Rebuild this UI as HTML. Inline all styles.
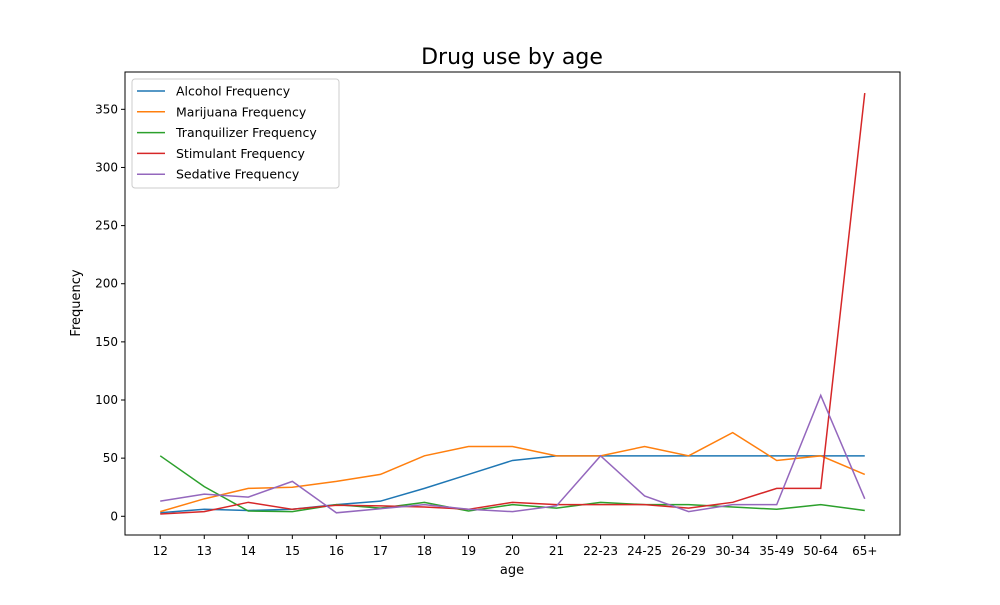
<!DOCTYPE html>
<html><head><meta charset="utf-8"><style>
body{margin:0;background:#fff;font-family:"Liberation Sans","DejaVu Sans",sans-serif}
svg text{font-family:"DejaVu Sans","Liberation Sans",sans-serif}
</style></head><body>
<svg id="chart" width="1000" height="600" xmlns="http://www.w3.org/2000/svg">
<text x="512" y="64" font-size="22" text-anchor="middle">Drug use by age</text>
<g id="grid"></g>
<g id="lines"></g>
<rect x="125" y="72" width="775" height="463" fill="none" stroke="#000" stroke-width="1"/>
<text x="512" y="574" font-size="13" text-anchor="middle">age</text>
<text x="0" y="0" font-size="13" text-anchor="middle" transform="translate(80,303) rotate(-90)">Frequency</text>
<g id="legend"></g>
</svg>
<script>
const categories=["12","13","14","15","16","17","18","19","20","21","22-23","24-25","26-29","30-34","35-49","50-64","65+"];
const alcohol=[3,6,5,6,10,13,24,36,48,52,52,52,52,52,52,52,52];
const marijuana=[4,15,24,25,30,36,52,60,60,52,52,60,52,72,48,52,36];
const tranquilizer=[52,25.5,4.5,4,10,7,12,4.5,10,7,12,10,10,8,6,10,5];
const stimulant=[2,4,12,6,9.5,9,8,6,12,10,10,10,7,12,24,24,364];
const sedative=[13,19,16.5,30,3,6.5,10,6,4,9,52,17.5,4,10,10,104,15];
const yTicks=[0,50,100,150,200,250,300,350];
const seriesNames=["Alcohol Frequency","Marijuana Frequency","Tranquilizer Frequency","Stimulant Frequency","Sedative Frequency"];
const seriesKeys=["alcohol","marijuana","tranquilizer","stimulant","sedative"];
const colors=["#1f77b4","#ff7f0e","#2ca02c","#d62728","#9467bd"];
const allSeries=[alcohol,marijuana,tranquilizer,stimulant,sedative];
const NS="http://www.w3.org/2000/svg";
const L=125,R=900,T=72,B=535;
let mn=Infinity,mx=-Infinity;allSeries.forEach(s=>s.forEach(v=>{mn=Math.min(mn,v);mx=Math.max(mx,v);}));
const pad=(mx-mn)*0.05,y0=mn-pad,y1=mx+pad;
const n=categories.length,xpad=(R-L)/(n-1+ (n-1)*0.1)*(n-1)*0.05/(n-1)*(n-1);
const step=(R-L)/((n-1)*1.1);
function x(i){return L+step*(n-1)*0.05+i*step;}
function y(v){return B-(v-y0)/(y1-y0)*(B-T);}
const grid=document.getElementById('grid');
function mk(tag,attrs,parent){const e=document.createElementNS(NS,tag);for(const k in attrs)e.setAttribute(k,attrs[k]);parent.appendChild(e);return e;}
categories.forEach((c,i)=>{
 const t=mk('line',{x1:x(i),x2:x(i),y1:B,y2:B+4,stroke:'#000'},grid);
 
 
 const tx=mk('text',{x:x(i),y:B+20,'font-size':12,'text-anchor':'middle'},grid);tx.textContent=c;
 
 
});
yTicks.forEach(v=>{
 const t=mk('line',{x1:L-4,x2:L,y1:y(v),y2:y(v),stroke:'#000'},grid);
 
 
 const tx=mk('text',{x:L-7,y:y(v)+4,'font-size':12,'text-anchor':'end'},grid);tx.textContent=v;
 
 
});
const lines=document.getElementById('lines');
allSeries.forEach((s,k)=>{
 const p=mk('polyline',{points:s.map((v,i)=>x(i)+','+y(v)).join(' '),fill:'none',stroke:colors[k],'stroke-width':1.5},lines);
 
 
});
const lg=document.getElementById('legend');
const box=mk('rect',{x:132,y:79,width:207,height:109,fill:'#fff',stroke:'#ccc',rx:3},lg);


seriesNames.forEach((nm,k)=>{
 const yy=91+k*20.8;
 const g=mk('g',{},lg);
 
 
 mk('line',{x1:137,x2:165,y1:yy,y2:yy,stroke:colors[k],'stroke-width':1.5},g);
 const t=mk('text',{x:176,y:yy+4.5,'font-size':12.5},g);t.textContent=nm;
});
</script>
</body></html>
